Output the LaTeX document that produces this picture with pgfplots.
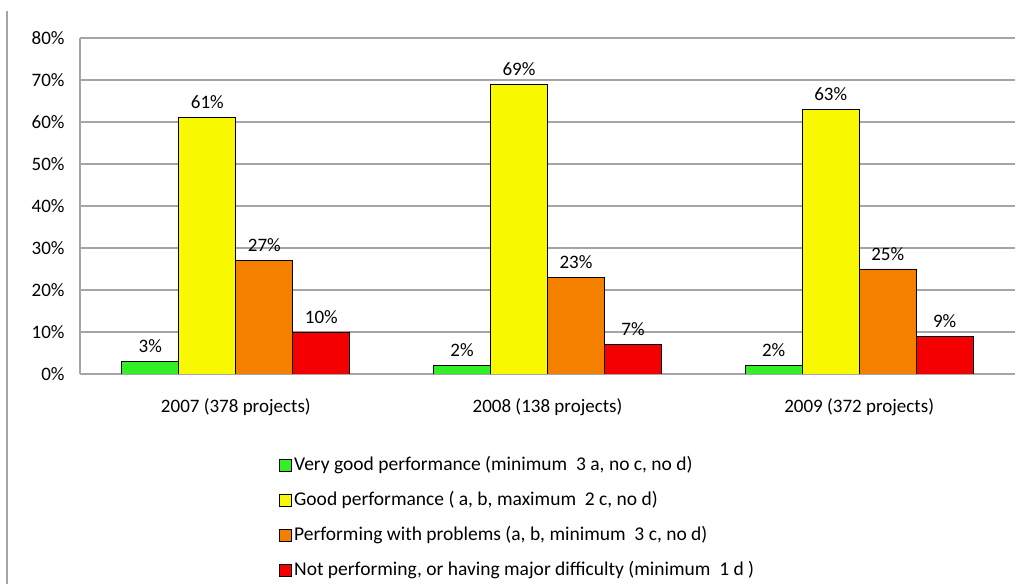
\documentclass[border=0pt]{standalone}
\usepackage{pgfplots}
\pgfplotsset{compat=1.18}
\usepackage{fontspec}
\setmainfont{Carlito}
\definecolor{cgreen}{RGB}{50,240,40}
\definecolor{cyellow}{RGB}{248,248,0}
\definecolor{corange}{RGB}{245,128,0}
\definecolor{cred}{RGB}{245,0,0}
\definecolor{cgrid}{RGB}{165,165,165}
\begin{document}
\begin{tikzpicture}
\path[use as bounding box] (0bp,0bp) rectangle (1021bp,584bp);
\draw[cgrid, line width=1.5bp] (7bp,0bp) -- (7bp,573bp);
\begin{axis}[
  at={(80bp,210bp)}, anchor=south west, scale only axis,
  width=935bp, height=336bp,
  /pgf/number format/assume math mode=true,
  ymin=0, ymax=80, ytick={0,10,...,80},
  yticklabel={\pgfmathprintnumber{\tick}\%},
  xmin=-0.5, xmax=2.5, xtick={0,1,2},
  xticklabels={2007 (378 projects),2008 (138 projects),2009 (372 projects)},
  ymajorgrids, grid style={cgrid, line width=1.5bp},
  axis x line*=bottom, axis y line*=left,
  axis line style={cgrid, line width=1.5bp, -},
  major tick length=0pt,
  tick label style={font=\fontsize{19bp}{22bp}\selectfont},
  yticklabel style={xshift=-12bp},
  xticklabel style={yshift=-21bp},
  ybar=0pt, bar width=57bp,
  nodes near coords={\pgfmathprintnumber{\pgfplotspointmeta}\%},
  nodes near coords style={font=\fontsize{19bp}{22bp}\selectfont, yshift=5bp, black},
  mylegend/.style={legend image code/.code={\draw[##1,draw=black,line width=0.8bp] (0bp,-6bp) rectangle (12bp,6bp);}},
  legend style={at={(0.213,-0.238)}, anchor=north west, draw=none, inner sep=0pt,
    font=\fontsize{19.5bp}{22bp}\selectfont, row sep=13bp,
    nodes={text height=14bp, text depth=4bp, inner sep=2bp}},
  legend cell align=left,
]
\addplot[fill=cgreen, draw=black, line width=0.8bp, mylegend] coordinates {(0,3) (1,2) (2,2)};
\addplot[fill=cyellow, draw=black, line width=0.8bp, mylegend] coordinates {(0,61) (1,69) (2,63)};
\addplot[fill=corange, draw=black, line width=0.8bp, mylegend] coordinates {(0,27) (1,23) (2,25)};
\addplot[fill=cred, draw=black, line width=0.8bp, mylegend] coordinates {(0,10) (1,7) (2,9)};
\legend{{Very good performance (minimum\ \ 3 a, no c, no d)},
{Good performance ( a, b, maximum\ \ 2 c, no d)},
{Performing with problems (a, b, minimum\ \ 3 c, no d)},
{Not performing, or having major difficulty (minimum\ \ 1 d )}}
\end{axis}
\end{tikzpicture}
\end{document}
